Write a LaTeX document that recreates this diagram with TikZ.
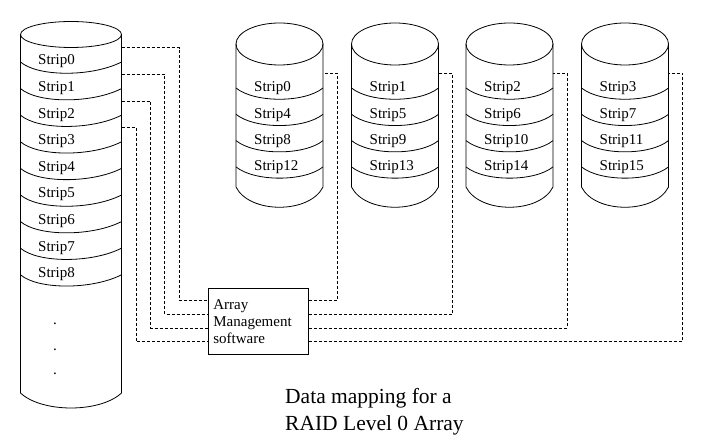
\documentclass[tikz,border=0pt]{standalone}
\usepackage{fontspec}
\setmainfont{Liberation Serif}
\usetikzlibrary{calc}

\begin{document}
\begin{tikzpicture}[x=1pt,y=-1pt,
    disk/.style={line width=0.8pt},
    link/.style={line width=0.7pt,dash pattern=on 3pt off 2pt},
    lbl/.style={anchor=base west,inner sep=0pt,font=\fontsize{15}{17}\selectfont}]
    \useasboundingbox (0,0) rectangle (709,446);

    % striped volume on the left
    \draw[disk] (20.5,34.5) -- (20.5,393) .. controls (42,413) and (100,413) .. (121.5,393) -- (121.5,34.5);
    \draw[disk] (71,34.5) ellipse [x radius=50.5,y radius=13];
    \foreach \k in {0,...,8} {
        \draw[disk] (20.5,62+26.6*\k) .. controls (38,77+26.6*\k) and (92,77+26.6*\k) .. (121.5,62+26.6*\k);
        \node[lbl] (vs\k) at (38,65+26.6*\k) {Strip\k};
    }
    \foreach \k/\y in {1/324,2/350,3/374}
        \node[lbl,anchor=base] (dot\k) at (55,\y) {.};

    % member disks
    \foreach \i/\cx in {0/279.5,1/395,2/509.5,3/625} {
        \draw[disk] (\cx-43.5,44) -- (\cx-43.5,187) .. controls (\cx-30,214) and (\cx+30,214) .. (\cx+43.5,187) -- (\cx+43.5,44);
        \draw[disk] (\cx,44) ellipse [x radius=43.5,y radius=21];
        \foreach \j in {0,...,3} {
            \draw[disk] (\cx-43.5,88+26.3*\j) .. controls (\cx-25,103+26.3*\j) and (\cx+25,103+26.3*\j) .. (\cx+43.5,88+26.3*\j);
            \pgfmathtruncatemacro{\s}{\i+4*\j}
            \node[lbl] (d\i-\j) at (\cx-25.5,92+26.3*\j) {Strip\s};
        }
        \coordinate (dsk\i) at (\cx+43.5,73);
    }

    % array management software
    \node[draw,line width=0.8pt,anchor=north west,minimum width=100pt,minimum height=66pt,
        text width=90pt,inner xsep=5pt,align=left,font=\fontsize{15}{17}\selectfont]
        (ams) at (208,288) {Array\\Management\\software};

    \foreach \k in {0,...,3} {
        \coordinate (src\k) at (121.5,47.7+26.6*\k);
        \coordinate (in\k) at ($(ams.north west)+(0,12.5+13.7*\k)$);
        \coordinate (out\k) at ($(ams.north east)+(0,12.5+13.7*\k)$);
        \draw[link] (src\k) -- ++(57.5-14.3*\k,0) |- (in\k);
        \draw[link] (out\k) -| ($(dsk\k)+(14,0)$) -- (dsk\k);
    }

    \node[anchor=base west,align=left,inner sep=0pt,font=\fontsize{21.5}{27}\selectfont]
        (caption) at (285,430) {Data mapping for a\\RAID Level 0 Array};
\end{tikzpicture}
\end{document}
